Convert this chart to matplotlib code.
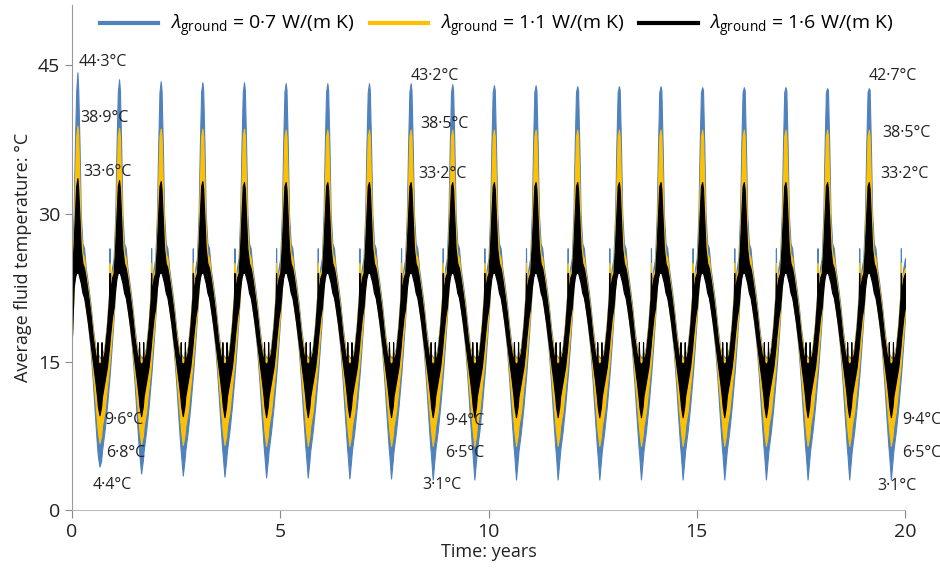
"""
Average fluid temperature over 20 years for three ground conductivities
"""

import numpy as np
import matplotlib
matplotlib.use("Agg")
import matplotlib.pyplot as plt

################################################################################
# --- DATA
################################################################################
# one yearly cycle, phase as fraction of a year
phase = [0.00, 0.04, 0.07, 0.10, 0.13, 0.15, 0.18, 0.21, 0.25, 0.29, 0.33,
         0.38, 0.44, 0.50, 0.56, 0.60, 0.61, 0.62, 0.66, 0.70, 0.71, 0.72,
         0.78, 0.84, 0.89, 0.90, 0.91, 0.96]
PEAK = 4       # index of the yearly maximum in phase
TROUGH = 18    # index of the yearly minimum in phase

# upper / lower edge of each band over one cycle (None = yearly extreme)
upper_07 = [25.5, 30.0, 37.0, 42.3, None, 42.5, 37.0, 30.0, 27.0, 26.5, 24.5,
            23.0, 21.0, 18.5, 16.5, 15.8, 16.5, 15.8, 15.5, 15.5, 16.0, 15.5,
            16.5, 19.0, 22.0, 26.5, 22.5, 24.5]
lower_07 = [19.5, 22.5, 24.0, 24.5, 24.5, 24.5, 24.0, 23.5, 22.5, 22.0, 20.5,
            19.0, 16.5, 13.0, 9.0, 6.5, 6.0, 5.5, None, 5.0, 5.5, 6.0,
            8.0, 10.5, 13.0, 13.5, 14.0, 17.0]
upper_11 = [24.5, 28.0, 33.0, 37.8, None, 37.8, 33.0, 28.5, 26.0, 25.5, 24.0,
            22.5, 20.5, 18.0, 16.3, 15.6, 16.5, 15.6, 15.3, 15.3, 16.0, 15.3,
            16.3, 18.8, 21.8, 25.0, 22.3, 24.0]
lower_11 = [20.0, 22.5, 24.0, 24.5, 24.5, 24.5, 24.0, 23.5, 22.5, 22.0, 20.5,
            19.0, 17.0, 14.0, 11.0, 9.0, 8.5, 8.0, None, 7.5, 8.0, 8.5,
            10.0, 12.5, 14.5, 15.0, 15.5, 18.0]
upper_16 = [24.0, 27.0, 30.0, 32.8, None, 32.5, 29.5, 26.5, 25.0, 24.5, 23.5,
            22.0, 20.0, 17.5, 15.8, 15.0, 17.0, 15.0, 14.8, 15.0, 17.0, 15.0,
            16.0, 18.5, 21.5, 24.0, 22.0, 23.5]
lower_16 = [20.5, 22.5, 23.5, 24.0, 24.0, 24.0, 23.5, 23.0, 22.0, 21.5, 20.5,
            19.0, 17.0, 15.0, 13.0, 11.5, 11.0, 10.5, None, 10.5, 11.0, 11.5,
            13.0, 14.5, 16.5, 17.0, 17.5, 19.5]

# yearly maxima and minima, years 0..19
peak_07 = [44.3, 43.6, 43.4, 43.3, 43.3, 43.2, 43.2, 43.2, 43.2, 43.1,
           43.0, 43.0, 42.9, 42.9, 42.9, 42.8, 42.8, 42.8, 42.7, 42.7]
trough_07 = [4.4, 3.7, 3.5, 3.4, 3.3, 3.3, 3.2, 3.2, 3.1, 3.1,
             3.1, 3.1, 3.1, 3.1, 3.1, 3.1, 3.1, 3.1, 3.1, 3.1]
peak_11 = [38.9, 38.7, 38.6, 38.6, 38.6, 38.5, 38.5, 38.5, 38.5, 38.5,
           38.5, 38.5, 38.5, 38.5, 38.5, 38.5, 38.5, 38.5, 38.5, 38.5]
trough_11 = [6.8, 6.7, 6.6, 6.6, 6.5, 6.5, 6.5, 6.5, 6.5, 6.5,
             6.5, 6.5, 6.5, 6.5, 6.5, 6.5, 6.5, 6.5, 6.5, 6.5]
peak_16 = [33.6, 33.4, 33.3, 33.3, 33.2, 33.2, 33.2, 33.2, 33.2, 33.2,
           33.2, 33.2, 33.2, 33.2, 33.2, 33.2, 33.2, 33.2, 33.2, 33.2]
trough_16 = [9.6, 9.5, 9.5, 9.4, 9.4, 9.4, 9.4, 9.4, 9.4, 9.4,
             9.4, 9.4, 9.4, 9.4, 9.4, 9.4, 9.4, 9.4, 9.4, 9.4]

# starting temperature at t = 0
start_07, start_11, start_16 = 17.5, 17.6, 17.7

labels = ["0·7", "1·1", "1·6"]
colors = ["#4f81bd", "#ffc000", "#000000"]

# annotated extremes: text, x (years), y (degC)
notes = [("44·3°C", 0.17, 45.3), ("38·9°C", 0.19, 39.7), ("33·6°C", 0.26, 34.2),
         ("9·6°C", 0.77, 9.1), ("6·8°C", 0.82, 5.8), ("4·4°C", 0.50, 2.5),
         ("43·2°C", 8.14, 43.9), ("38·5°C", 8.36, 39.1), ("33·2°C", 8.31, 34.0),
         ("9·4°C", 8.96, 9.0), ("6·5°C", 8.96, 5.8), ("3·1°C", 8.40, 2.5),
         ("42·7°C", 19.12, 43.9), ("38·5°C", 19.45, 38.2), ("33·2°C", 19.40, 34.0),
         ("9·4°C", 19.93, 9.1), ("6·5°C", 19.93, 5.8), ("3·1°C", 19.33, 2.4)]


def build_band(upper, lower, peaks, troughs, start):
    """Chain the yearly cycle 20 times with the yearly extremes put in"""
    t, hi, lo = [], [], []
    for yr in range(len(peaks)):
        up = list(upper)
        dn = list(lower)
        up[PEAK] = peaks[yr]
        dn[TROUGH] = troughs[yr]
        if yr == 0:
            dn[0] = start
        t += [yr + p for p in phase]
        hi += up
        lo += dn
    # closing point at the end of year 20
    t.append(len(peaks))
    hi.append(upper[0])
    lo.append(lower[0])
    return np.array(t), np.array(hi), np.array(lo)


################################################################################
# --- PLOT
################################################################################
plt.rcParams["font.family"] = ["Open Sans", "DejaVu Sans"]
plt.rcParams["mathtext.fontset"] = "custom"
plt.rcParams["mathtext.rm"] = "Open Sans"
plt.rcParams["mathtext.it"] = "Open Sans:italic"

fig = plt.figure(figsize=(9.4, 5.7), dpi=100)
ax = fig.add_axes([0.0766, 0.105, 0.8862, 0.886])

bands = [(upper_07, lower_07, peak_07, trough_07, start_07),
         (upper_11, lower_11, peak_11, trough_11, start_11),
         (upper_16, lower_16, peak_16, trough_16, start_16)]

for (up, dn, pk, tr, st), lab, col in zip(bands, labels, colors):
    t, hi, lo = build_band(up, dn, pk, tr, st)
    ax.fill_between(t, lo, hi, color=col, lw=0.8, edgecolor=col)
    ax.plot([], [], color=col, lw=3,
            label=r"$\lambda_{\mathrm{ground}}$ = " + lab + " W/(m K)")

for txt, x, y in notes:
    ax.text(x, y, txt, fontsize=11.5, ha="left", va="center", color="#222222")

ax.set_xlim(0, 20)
ax.set_ylim(0, 51.1)
ax.set_xticks([0, 5, 10, 15, 20])
ax.set_yticks([0, 15, 30, 45])
ax.tick_params(axis="both", labelsize=14, color="#888888", length=5,
               labelcolor="#222222")
ax.tick_params(axis="x", length=6)
for side in ["top", "right"]:
    ax.spines[side].set_visible(False)
ax.spines["left"].set_color("#999999")
ax.spines["bottom"].set_color("#bbbbbb")

ax.set_xlabel("Time: years", fontsize=13, labelpad=1, color="#222222")
ax.set_ylabel("Average fluid temperature: °C", fontsize=13, labelpad=4,
              color="#222222")

ax.legend(loc="upper center", bbox_to_anchor=(0.51, 1.02), ncol=3,
          frameon=False, fontsize=14, handlelength=3.0, columnspacing=0.8,
          handletextpad=0.6)

fig.savefig("out.png", dpi=100)
